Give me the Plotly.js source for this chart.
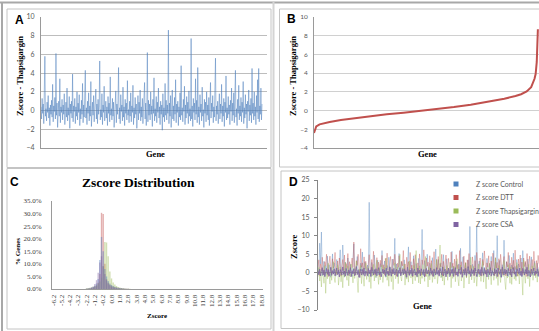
<!DOCTYPE html>
<html><head><meta charset="utf-8">
<script src="https://cdn.plot.ly/plotly-3.0.1.min.js"></script>
<style>html,body{margin:0;padding:0;background:#fff}#chart{width:539px;height:331px}</style>
</head><body><div id="chart"></div>
<script>
const geneA = [
0.4,-0.9,1.3,-0.3,0.7,-1.4,2.2,5.8,-0.6,0.2,-1.1,0.9,-0.2,1.6,-0.8,0.3,-1.6,0.6,-0.4,1.1,
-0.7,2.8,-1.2,0.5,-0.1,1.4,-0.9,6.1,-0.5,0.8,-1.8,0.2,1.0,-0.6,3.4,-1.3,0.4,-0.2,1.2,-1.0,
0.6,-0.4,1.8,-1.5,0.1,0.9,-0.7,2.4,-1.1,0.3,-0.5,1.5,-1.9,0.7,-0.3,1.0,-0.8,3.9,-1.2,0.5,
-0.1,1.3,-1.4,0.4,-0.6,2.0,-1.0,0.8,-0.2,1.7,-1.6,0.2,-0.9,1.1,-0.4,2.9,-1.3,0.6,-0.7,1.4,
4.3,-0.8,0.3,-1.5,1.0,-0.3,1.9,-1.1,0.5,-0.6,3.1,-1.7,0.2,0.9,-0.5,1.6,-1.2,0.4,-0.1,2.3,
-0.9,0.7,-1.4,1.2,-0.4,0.5,5.3,-1.0,0.1,-0.7,1.8,-1.5,0.6,-0.2,2.6,-1.1,0.3,1.0,-0.8,0.4,
-1.6,1.5,-0.3,0.8,-1.2,3.6,-0.5,0.2,-1.0,1.3,-0.6,0.9,-1.8,0.5,-0.2,2.1,-1.3,0.7,-0.4,1.1,
4.6,-0.9,0.3,-1.4,1.7,-0.1,0.6,-1.1,2.5,-0.7,0.4,-1.6,1.2,-0.3,0.8,-1.0,3.2,-0.5,0.1,-1.3,
1.0,-0.6,1.9,-1.2,0.5,-0.2,2.7,-1.5,0.3,-0.8,1.4,-0.4,0.7,-1.9,0.2,1.6,-1.0,0.9,-0.3,2.2,
-1.1,0.4,-0.7,1.3,-1.4,0.6,-0.1,3.0,-0.9,0.8,-1.6,0.3,6.2,-1.2,1.1,-0.5,0.7,-1.0,2.0,-0.4,
0.5,-1.7,1.2,-0.3,3.5,-1.1,0.2,-0.6,1.5,-1.3,0.9,-0.2,2.4,-0.8,0.4,-1.5,1.0,-0.4,0.6,-2.1,
1.8,-0.7,0.3,-1.2,2.9,-0.5,1.1,-1.0,0.6,-0.3,8.6,-1.4,0.8,-0.6,1.6,-1.8,0.2,2.2,-0.9,0.5,
-1.1,1.4,-0.4,3.3,-1.3,0.7,-0.2,1.0,-1.6,0.4,-0.7,1.9,-1.0,4.8,-0.5,0.3,-1.2,1.2,-0.1,2.6,
-1.5,0.6,-0.8,1.5,-0.3,0.9,-1.4,2.1,-0.6,0.2,-1.1,7.7,-0.9,0.5,-1.7,1.3,-0.2,0.8,-1.0,3.4,
-0.4,1.1,-1.3,4.6,-0.7,0.4,-1.5,1.7,-0.2,0.7,-1.1,2.5,-0.6,0.1,-1.8,1.2,-0.3,0.9,-1.2,2.0,
-0.5,0.6,-1.0,1.4,-1.6,0.3,3.0,-0.8,0.8,-0.1,1.6,-1.3,0.4,-0.7,2.3,5.6,-1.1,0.5,-0.4,1.0,
-1.4,0.2,1.8,-0.9,0.7,-0.3,2.8,-1.2,0.5,-0.6,1.3,-1.7,0.9,-0.2,3.7,-1.0,0.3,-0.8,1.5,-0.4,
0.6,-1.5,1.1,-0.1,2.4,-1.1,0.8,-0.5,1.9,-1.3,0.4,4.3,-0.7,0.2,-1.6,1.2,-0.3,2.7,-1.0,0.5,
-0.6,1.4,-1.2,0.9,-0.2,3.1,-1.4,0.3,-0.8,1.7,-0.4,0.7,-1.9,1.0,-0.1,2.2,-1.1,0.6,-0.5,1.3,
-1.3,4.5,-0.3,0.8,-1.0,2.0,-0.6,0.4,-1.5,1.6,-0.2,3.3,-0.9,4.5,-1.2,0.5,-0.4,2.4,-1.0,0.7];

// ---- Panel B: sorted Zscore - Thapsigargin (rank 0..1000)
const rankB = [0,5,10,25,50,70,120,175,250,325,400,475,550,625,700,775,850,900,925,950,970,985,990,995,998,1000];
const zB    = [-2.4,-1.9,-1.7,-1.47,-1.3,-1.22,-1.0,-0.82,-0.6,-0.4,-0.22,-0.05,0.14,0.37,0.63,0.93,1.27,1.55,1.75,2.05,2.5,3.4,3.9,5.2,7.0,8.7];

// ---- Panel C: Zscore distribution (% genes per bin)
const binsC = [-2.2,-2.0,-1.8,-1.6,-1.4,-1.2,-1.0,-0.8,-0.6,-0.4,-0.2,0.0,0.2,0.4,0.6,0.8,1.0,1.2,1.4,1.6,1.8,2.0,2.2,2.4,2.6,2.8,3.0];
const distControl = [0.1,0.2,0.3,0.5,0.8,1.3,2.2,4.0,11.5,20.7,15.0,8.0,5.0,3.2,2.2,1.6,1.2,0.9,0.7,0.5,0.4,0.3,0.2,0.1,0.1,0.05,0];
const distDTT     = [0.05,0.1,0.2,0.3,0.5,0.8,1.2,2.5,6.0,30.3,29.8,10.0,4.0,2.6,1.8,1.3,1.0,0.8,0.6,0.5,0.4,0.3,0.2,0.1,0.1,0.05,0];
const distThaps   = [0.3,0.4,0.5,0.7,0.9,1.2,1.6,2.2,3.0,4.5,9.0,18.7,18.5,13.0,7.0,4.2,2.6,1.8,1.2,0.8,0.6,0.4,0.3,0.2,0.1,0.1,0.05];
const distCSA     = [0.1,0.2,0.3,0.6,1.0,2.0,3.5,6.5,10.5,13.0,9.0,6.0,3.5,2.2,1.5,1.0,0.7,0.5,0.3,0.2,0.15,0.1,0.1,0.05,0,0,0];
const tickValsC  = [-6.2,-5.2,-4.2,-3.2,-2.2,-1.2,-0.2,0.8,1.8,2.8,3.8,4.8,5.8,6.8,7.8,8.8,9.8,10.8,11.8,12.8,13.8,14.8,15.8,16.8,17.8,18.8];
const tickTextC  = ["-6.2","-5.2","-4.2","-3.2","-2.2","-1.2","-0.2","0.8","1.8","2.8","3.8","4.8","5.8","6.8","7.8","8.8","9.8","10.8","11.8","12.8","13.8","14.8","15.8","16.8","17.8","18.8"];

// ---- Panel D: Z scores per gene, four treatments (sampled)
const zControl = [
1.2,-0.5,8.0,2.4,11.0,-0.8,0.6,3.1,-1.0,1.8,0.3,4.5,-0.6,2.2,0.9,-1.2,1.5,5.1,-0.4,2.7,
0.5,-0.9,3.6,1.1,-0.3,2.0,6.2,-0.7,1.4,7.5,0.2,-1.1,2.9,0.8,-0.5,4.0,1.6,-0.8,2.3,0.4,
-1.0,3.3,7.8,0.7,-0.6,1.9,4.4,-0.2,1.0,-1.3,2.6,0.5,5.6,-0.7,1.3,3.0,-0.4,0.9,2.1,-1.0,
19.0,0.6,-0.9,2.8,1.2,-0.3,4.8,0.4,-1.2,1.7,3.4,-0.5,0.8,2.5,-0.8,6.0,1.1,-0.2,3.2,0.3,
-1.1,2.0,0.7,4.2,-0.6,1.5,-0.9,3.7,0.2,1.3,9.3,-0.4,2.4,0.9,-1.0,5.2,1.0,-0.7,2.9,0.5,
-0.3,3.5,1.4,-1.2,0.8,2.2,7.0,-0.5,1.1,3.0,-0.9,0.4,4.6,1.8,-0.6,2.5,0.3,-1.1,3.9,1.0,
-0.4,2.0,11.7,0.6,-0.8,3.3,1.5,-0.2,5.0,0.7,-1.0,2.6,1.2,-0.5,4.1,0.4,-0.9,2.2,6.4,-0.3,
1.6,3.6,-0.7,0.9,2.7,-1.2,1.3,4.9,0.2,-0.6,2.1,3.8,-0.4,1.0,-1.1,2.8,0.6,5.8,-0.8,1.7,
0.3,-0.5,3.1,1.4,-1.0,2.4,0.8,6.6,-0.3,1.9,4.3,-0.7,0.5,2.6,-1.2,1.2,3.5,-0.4,12.5,0.9,
-0.8,2.3,1.1,-0.2,4.7,0.4,12.5,-1.0,1.8,3.2,-0.6,0.7,2.0,5.4,-0.9,1.5,0.2,-0.4,3.9,1.3,
-1.1,2.5,0.6,4.4,-0.5,1.0,6.0,-0.8,2.9,0.3,10.0,-0.3,1.6,3.4,-1.2,0.8,2.2,-0.6,8.8,1.2,
-0.4,3.0,0.5,-1.0,4.7,1.4,-0.7,2.1,0.9,5.3,-0.2,1.7,-1.1,3.6,0.4,2.4,-0.5,1.0,4.0,-0.9,
6.0,0.7,-0.6,2.8,1.3,-0.3,3.7,0.5,-1.0,2.0,4.3,0.8,-0.7,1.9,3.1,-0.4,0.6,2.6,-1.1,1.5];
const zDTT = [
1.5,3.5,-0.8,2.4,0.6,4.2,1.0,-0.5,3.0,1.8,5.0,0.2,-1.0,2.6,4.5,0.8,-0.4,3.8,1.3,2.0,
5.5,-0.6,1.1,3.2,0.4,4.0,2.2,-0.9,1.6,3.6,0.7,4.8,-0.3,2.5,1.2,5.2,-0.7,3.0,0.9,2.1,
4.0,1.4,8.3,0.3,-0.5,3.3,2.0,5.0,0.8,-1.2,6.5,1.5,2.7,-0.4,4.3,1.0,3.1,0.2,-0.8,2.4,
4.9,1.7,-0.2,3.6,0.6,5.8,2.3,-0.6,1.2,4.1,0.5,2.9,-1.0,3.4,1.6,4.7,0.1,2.2,-0.5,3.9,
1.3,5.3,0.7,-0.8,2.8,4.4,1.1,-0.3,3.7,2.0,5.0,0.4,-0.9,2.6,1.5,4.6,0.8,-0.2,3.2,1.9,
6.0,0.6,2.4,-0.7,4.2,1.3,3.0,-0.4,5.5,1.0,2.1,-1.1,3.8,0.9,4.9,1.6,-0.5,2.7,0.3,5.1,
1.4,-0.6,3.5,2.2,6.2,0.5,-0.9,4.0,1.8,2.9,-0.3,4.6,0.7,3.3,-0.8,2.0,5.7,1.2,-0.2,3.6,
0.9,4.4,-0.5,2.5,1.6,5.0,-0.9,3.1,0.4,2.3,4.8,-0.4,1.9,3.9,0.6,-1.0,5.6,1.4,2.6,0.2,
3.7,-0.7,4.9,1.1,2.2,-0.3,6.0,0.8,3.0,-0.6,1.7,4.5,0.3,2.8,-1.1,3.5,1.3,5.2,-0.4,2.1,
0.7,4.3,1.8,-0.8,3.3,0.5,5.5,2.4,-0.2,1.2,4.0,0.9,-0.9,3.6,2.0,5.9,0.4,-0.5,2.7,1.5,
4.6,-0.3,1.0,3.2,0.6,5.3,2.2,-0.7,4.1,1.3,2.8,-1.0,3.8,0.8,5.0,1.9,-0.4,2.4,4.4,0.3,
-0.8,3.0,1.6,5.5,0.5,2.6,-0.6,4.2,1.1,3.4,-0.2,6.1,0.9,2.0,-0.9,3.7,1.4,4.8,0.2,2.9,
-0.5,4.0,1.7,3.1,-1.0,5.2,0.6,2.3,4.5,-0.3,1.2,3.6,0.4,5.8,2.0,-0.7,3.3,1.1,4.7,2.5];
const zThaps = [
-1.0,1.5,-2.2,0.6,-3.8,1.2,-0.5,-2.8,2.0,-5.5,0.3,-1.6,2.6,-0.8,-3.0,1.4,-2.0,0.5,3.0,-1.3,
-2.6,0.8,-0.4,2.2,-3.3,-1.0,1.6,-2.4,0.2,-4.0,1.0,-1.2,2.8,-0.6,-2.0,1.9,-3.5,0.4,-1.1,2.4,
-0.3,-2.7,1.3,-1.5,0.6,3.2,-2.1,-5.3,0.9,-0.7,2.0,-2.9,1.1,-1.4,-3.6,0.5,2.6,-1.8,-0.2,1.7,
-2.5,0.3,-4.2,1.4,-0.9,2.3,-2.2,0.7,-1.3,3.4,-0.5,-3.1,1.2,-1.9,0.4,2.1,-2.6,-0.4,1.5,-1.2,
4.0,-2.0,0.6,-3.6,1.8,-0.8,-2.4,1.0,-4.5,0.2,2.7,-1.6,-0.3,1.6,-2.9,0.9,5.0,-1.1,-2.2,1.3,
-0.6,2.4,-3.3,0.5,-1.7,1.1,-2.5,3.2,-0.9,-1.4,0.7,-3.0,2.0,-0.2,-2.1,6.0,-1.2,0.8,-2.7,1.9,
-3.0,0.4,-1.5,2.2,-0.7,-2.3,4.4,-1.0,0.6,-3.8,1.5,-1.9,0.2,2.5,-2.6,-0.5,1.2,-1.7,0.8,3.6,
-2.9,-0.8,1.4,7.5,-1.3,0.3,-2.2,1.6,-3.3,0.5,-0.9,2.0,-2.0,1.1,-0.4,2.9,-4.0,0.7,-1.5,1.8,
1.2,-2.4,0.2,3.8,-1.6,-3.5,0.9,2.1,-2.2,-0.6,1.0,-4.1,0.5,2.7,-1.4,-0.3,1.6,-3.0,0.4,4.2,
-1.9,0.8,1.8,-2.7,-0.5,0.9,-3.6,1.3,2.4,-1.1,-0.2,-2.3,1.5,3.1,-2.5,0.6,-1.0,-4.3,1.4,-0.7,
-1.8,2.6,-0.4,-3.2,0.7,1.2,-2.0,-0.6,4.0,-1.5,0.3,-3.4,2.0,-0.8,-2.6,1.1,0.4,-1.0,3.3,-2.3,
-4.5,0.9,-1.4,2.2,-0.5,-2.8,1.6,-3.1,0.5,1.5,-1.7,-0.3,-2.1,2.8,-0.9,0.2,-3.0,1.3,0.6,-1.2,
-6.0,3.5,-0.6,-2.8,1.2,0.4,-1.6,2.3,-3.7,0.7,-0.8,1.9,-2.0,-0.2,2.6,-1.3,0.5,-2.5,1.0,-0.4];
const zCSA = [
0.6,-0.5,1.0,-0.8,0.3,1.4,-0.6,0.8,-1.0,0.5,1.2,-0.4,0.9,-0.9,0.2,1.5,-0.7,0.6,-0.3,1.1,
-0.8,0.4,1.3,-0.5,0.7,-1.1,0.9,0.2,-0.6,1.6,-0.4,0.5,-0.9,1.2,0.1,-0.7,0.8,-0.2,1.4,-1.0,
0.6,-0.3,1.1,-0.8,0.4,1.7,-0.5,0.7,-1.2,0.3,1.0,-0.6,0.9,-0.4,1.3,-0.9,0.5,0.2,-0.7,1.2,
-0.3,0.8,-1.0,1.5,0.1,-0.6,0.9,-0.4,1.1,-0.8,0.6,1.4,-0.5,0.3,-1.1,0.7,1.0,-0.2,0.8,-0.9,
1.3,-0.4,0.5,-0.7,1.6,0.2,-0.9,0.9,-0.3,1.2,-0.6,0.4,1.0,-1.0,0.7,-0.2,1.4,-0.8,0.3,0.9,
-0.5,1.1,-0.3,0.6,-1.2,1.5,0.2,-0.7,0.8,-0.4,1.2,-0.9,0.5,1.0,-0.6,0.3,-1.0,1.3,-0.2,0.7,
-0.8,1.1,0.4,-0.5,0.9,-1.1,0.6,1.2,-0.3,0.8,0.5,-0.7,1.3,-0.2,0.6,-1.0,1.0,0.3,-0.6,1.4,
-0.4,0.7,-0.9,1.2,0.2,-0.5,1.6,-0.8,0.4,1.0,-1.1,0.6,-0.3,1.3,0.1,-0.7,0.9,-0.2,1.1,-1.0,
0.5,1.4,-0.6,0.3,-0.9,1.0,0.7,-0.4,1.5,-1.2,0.2,0.9,-0.5,1.2,-0.8,0.4,1.7,-0.3,0.6,-1.0,
1.1,-0.2,0.8,-0.7,1.3,0.3,-1.0,0.6,1.0,-0.4,0.9,-0.8,1.5,0.1,-0.6,1.2,-0.3,0.7,-1.1,1.0,
0.4,-0.5,1.4,-0.9,0.6,0.2,-0.7,1.1,-0.2,0.8,-1.0,1.3,0.5,-0.4,0.9,-1.2,1.6,0.3,-0.6,1.0,
-0.3,0.7,-0.8,1.2,0.1,-0.5,1.0,-1.1,0.6,1.4,-0.4,0.3,-0.9,1.1,0.8,-0.2,1.3,-0.7,0.5,-1.0,
1.2,0.4,-0.6,0.9,-0.3,1.5,-0.9,0.7,0.2,-1.1,1.0,-0.4,0.8,1.3,-0.7,0.5,-0.2,1.1,-0.8,0.6];
const seriesNames = ["Z score Control","Z score DTT","Z score Thapsigargin","Z score CSA"];

// ---- styling
const W = 539, H = 331;
const px = x => x / W, py = y => 1 - y / H;
const C_BLUE = "rgb(79,129,189)", C_RED = "rgb(192,80,77)", C_GREEN = "rgb(155,187,89)", C_PURPLE = "rgb(128,100,162)";
const SANS = "Lato, 'Liberation Sans', sans-serif";
const SERIF = "'Liberation Serif', 'Times New Roman', serif";
const tickFont = {family: SANS, size: 7, color: "#595959"};
const idx = a => a.map((_, i) => i);

const traces = [
  {type: "scatter", mode: "lines", x: idx(geneA), y: geneA, xaxis: "x", yaxis: "y",
   line: {color: C_BLUE, width: 0.6}, opacity: 0.85, showlegend: false, hoverinfo: "skip"},
  {type: "scatter", mode: "lines", x: rankB, y: zB, xaxis: "x2", yaxis: "y2",
   line: {color: C_RED, width: 2}, showlegend: false, hoverinfo: "skip"},
  {type: "bar", x: binsC, y: distDTT, xaxis: "x3", yaxis: "y3", width: 0.17,
   marker: {color: C_RED, opacity: 0.45}, showlegend: false},
  {type: "bar", x: binsC, y: distThaps, xaxis: "x3", yaxis: "y3", width: 0.17,
   marker: {color: C_GREEN, opacity: 0.45}, showlegend: false},
  {type: "bar", x: binsC, y: distControl, xaxis: "x3", yaxis: "y3", width: 0.17,
   marker: {color: C_BLUE, opacity: 0.45}, showlegend: false},
  {type: "bar", x: binsC, y: distCSA, xaxis: "x3", yaxis: "y3", width: 0.17,
   marker: {color: C_PURPLE, opacity: 0.45}, showlegend: false},
  {type: "scatter", mode: "lines", x: idx(zControl), y: zControl, xaxis: "x4", yaxis: "y4",
   line: {color: C_BLUE, width: 0.5}, opacity: 0.75, showlegend: false},
  {type: "scatter", mode: "lines", x: idx(zDTT), y: zDTT, xaxis: "x4", yaxis: "y4",
   line: {color: C_RED, width: 0.5}, opacity: 0.75, showlegend: false},
  {type: "scatter", mode: "lines", x: idx(zThaps), y: zThaps, xaxis: "x4", yaxis: "y4",
   line: {color: C_GREEN, width: 0.5}, opacity: 0.75, showlegend: false},
  {type: "scatter", mode: "lines", x: idx(zCSA), y: zCSA, xaxis: "x4", yaxis: "y4",
   line: {color: C_PURPLE, width: 0.8}, showlegend: false}
];
// legend entries (square keys) for panel D
const legColors = [C_BLUE, C_RED, C_GREEN, C_PURPLE];
const legNames = ["legend", "legend2", "legend3", "legend4"];
seriesNames.forEach((n, i) => traces.push({
  type: "scatter", mode: "markers", x: [null], y: [null], xaxis: "x4", yaxis: "y4", name: n,
  marker: {symbol: "square", size: 5, color: legColors[i]}, legend: legNames[i], showlegend: true
}));

const legendBase = (yc) => ({x: px(436), y: py(yc), xanchor: "left", yanchor: "middle",
  bgcolor: "rgba(0,0,0,0)", borderwidth: 0, font: {family: SANS, size: 7, color: "#595959"}});

const box = (x0, y0, x1, y1, color, w) => ({type: "rect", xref: "paper", yref: "paper",
  x0: px(x0), x1: px(x1), y0: py(y1), y1: py(y0), line: {color: color || "#c4c4c4", width: w || 1},
  fillcolor: "rgba(0,0,0,0)"});
const ann = (text, x, y, font, angle) => ({text, x: px(x), y: py(y), xref: "paper", yref: "paper",
  showarrow: false, xanchor: "center", yanchor: "middle", font, textangle: angle || 0});
const titleFont = {family: SERIF, size: 8.5, color: "#000", weight: "bold"};
const letterFont = {family: "'Liberation Sans', Arial, sans-serif", size: 12, color: "#000", weight: "bold"};

const layout = {
  width: W, height: H, margin: {l: 0, r: 0, t: 0, b: 0, autoexpand: false},
  paper_bgcolor: "#fff", plot_bgcolor: "rgba(0,0,0,0)", barmode: "overlay",
  showlegend: true,
  legend: legendBase(184), legend2: legendBase(197.5), legend3: legendBase(211), legend4: legendBase(224.5),
  xaxis: {domain: [px(41), px(267)], anchor: "y", range: [0, 408], showticklabels: false, ticks: "",
    showgrid: false, zeroline: false, showline: true, linecolor: "#9a9a9a", linewidth: 1},
  yaxis: {domain: [py(148), py(17)], anchor: "x", range: [-4, 10], dtick: 2, tickfont: tickFont,
    showgrid: true, gridcolor: "#bdbdbd", gridwidth: 1, zeroline: false, showline: true,
    linecolor: "#9a9a9a", ticks: "", ticklabelstandoff: 4},
  xaxis2: {domain: [px(314), px(539)], anchor: "y2", range: [0, 1005], showticklabels: false, ticks: "",
    showgrid: false, zeroline: false, showline: true, linecolor: "#9a9a9a"},
  yaxis2: {domain: [py(148), py(17)], anchor: "x2", range: [-4, 10], dtick: 2,
    tickfont: {family: SANS, size: 6.5, color: "#595959"},
    showgrid: true, gridcolor: "#d0d0d0", zeroline: false, showline: true, linecolor: "#9a9a9a",
    ticks: "", ticklabelstandoff: 4},
  xaxis3: {domain: [px(52), px(263)], anchor: "y3", range: [-6.35, 19.0], tickmode: "array",
    tickvals: tickValsC, ticktext: tickTextC, tickangle: -90,
    tickfont: {family: SERIF, size: 7, color: "#404040"}, ticks: "", showgrid: false, zeroline: false,
    showline: true, linecolor: "#9a9a9a", ticklabelstandoff: 2},
  yaxis3: {domain: [py(289), py(201)], anchor: "x3", range: [0, 35], dtick: 5, tickformat: ".1f",
    ticksuffix: "%", tickfont: {family: SERIF, size: 7, color: "#404040"}, showgrid: false,
    zeroline: false, showline: true, linecolor: "#9a9a9a", ticks: "", ticklabelstandoff: 8},
  xaxis4: {domain: [px(318), 1], anchor: "y4", range: [0, 259], showticklabels: false, ticks: "",
    showgrid: false, zeroline: false, showline: false},
  yaxis4: {domain: [py(310), py(180)], anchor: "x4", range: [-10, 25], dtick: 5, tickfont: tickFont,
    showgrid: false, zeroline: true, zerolinecolor: "#9a9a9a", zerolinewidth: 1, showline: true,
    linecolor: "#868686", ticks: "outside", ticklen: 3, tickcolor: "#868686", ticklabelstandoff: 3},
  shapes: [
    {type: "line", xref: "paper", yref: "paper", x0: 0, x1: 1, y0: py(2.5), y1: py(2.5), line: {color: "#a8a8a8", width: 2}},
    {type: "line", xref: "paper", yref: "paper", x0: px(2), x1: px(2), y0: 0, y1: py(2), line: {color: "#a8a8a8", width: 2}},
    {type: "line", xref: "paper", yref: "paper", x0: px(273.5), x1: px(273.5), y0: 0, y1: py(2), line: {color: "#d4d4d4", width: 2}},
    box(7, 9, 271, 167.5),
    box(7, 168.5, 271, 329),
    box(279.5, 9, 545, 167),
    box(281, 171, 545, 328.5)
  ],
  annotations: [
    ann("A", 19, 20, letterFont), ann("B", 291, 19, letterFont),
    ann("C", 14, 182, letterFont), ann("D", 293, 182, letterFont),
    ann("Zscore - Thapsigargin", 20, 76, titleFont, -90),
    ann("Gene", 155, 154.5, titleFont),
    ann("Zscore - Thapsigargin", 293, 76, titleFont, -90),
    ann("Gene", 427, 154, titleFont),
    ann("Zscore Distribution", 138, 183, {family: SERIF, size: 13.5, color: "#000", weight: "bold"}),
    ann("% Genes", 18, 252, {family: SERIF, size: 7, color: "#000", weight: "bold"}, -90),
    ann("Zscore", 157, 316, {family: SERIF, size: 7, color: "#000", weight: "bold"}),
    ann("Zscore", 294, 247, titleFont, -90),
    ann("Gene", 422, 306, titleFont)
  ]
};
Plotly.newPlot("chart", traces, layout, {displayModeBar: false, staticPlot: true});
</script></body></html>
